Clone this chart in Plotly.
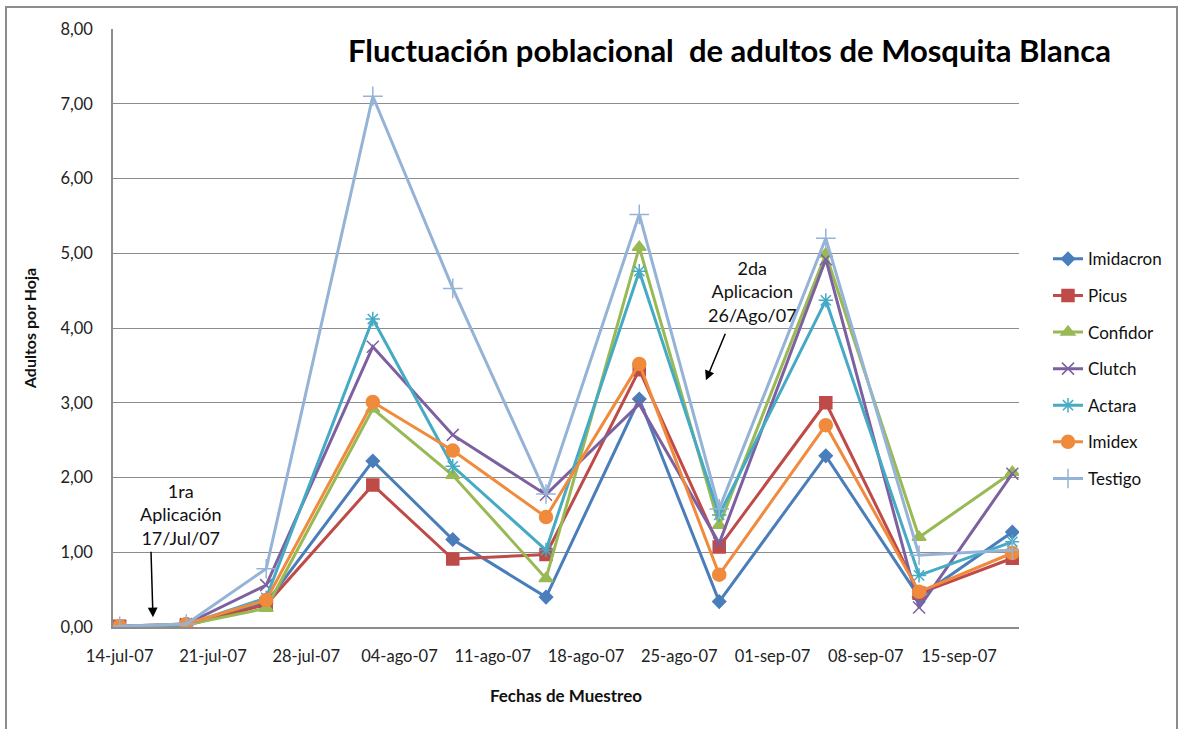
import plotly.graph_objects as go

fechas = ["2007-07-14", "2007-07-19", "2007-07-25", "2007-08-02", "2007-08-08",
          "2007-08-15", "2007-08-22", "2007-08-28", "2007-09-05", "2007-09-12", "2007-09-19"]

imidacron = [0.01, 0.03, 0.32, 2.22, 1.17, 0.40, 3.05, 0.34, 2.29, 0.40, 1.27]
picus     = [0.01, 0.02, 0.30, 1.90, 0.91, 0.97, 3.44, 1.07, 3.00, 0.45, 0.92]
confidor  = [0.01, 0.03, 0.25, 2.92, 2.03, 0.65, 5.08, 1.36, 4.99, 1.20, 2.07]
clutch    = [0.01, 0.04, 0.56, 3.75, 2.57, 1.77, 2.98, 1.12, 4.92, 0.26, 2.05]
actara    = [0.01, 0.03, 0.39, 4.12, 2.15, 1.03, 4.76, 1.50, 4.37, 0.69, 1.14]
imidex    = [0.01, 0.04, 0.36, 3.01, 2.36, 1.47, 3.52, 0.70, 2.70, 0.47, 0.99]
testigo   = [0.01, 0.04, 0.78, 7.10, 4.53, 1.78, 5.52, 1.58, 5.20, 0.96, 1.03]

series_names = ["Imidacron", "Picus", "Confidor", "Clutch", "Actara", "Imidex", "Testigo"]
series_values = [imidacron, picus, confidor, clutch, actara, imidex, testigo]
colors = ["#4A7EBB", "#BE4B48", "#98B954", "#7D60A0", "#46AAC5", "#F08A3C", "#95B3D7"]
symbols = ["diamond", "square", "triangle-up", "x-thin-open", "asterisk-open", "circle", "cross-thin-open"]
msizes = [10, 12, 12, 12, 12, 13, 14]

tick_vals = ["2007-07-14", "2007-07-21", "2007-07-28", "2007-08-04", "2007-08-11",
             "2007-08-18", "2007-08-25", "2007-09-01", "2007-09-08", "2007-09-15"]
tick_text = ["14-jul-07", "21-jul-07", "28-jul-07", "04-ago-07", "11-ago-07",
             "18-ago-07", "25-ago-07", "01-sep-07", "08-sep-07", "15-sep-07"]

FONT = "Lato"

fig = go.Figure()
for name, vals, c, s, ms in zip(series_names, series_values, colors, symbols, msizes):
    fig.add_trace(go.Scatter(
        x=fechas, y=vals, name=name, mode="lines+markers",
        line=dict(color=c, width=3),
        marker=dict(symbol=s, size=ms, color=c, line=dict(color=c, width=1.5)),
        legendgroup=name,
    ))

fig.update_layout(
    width=1186, height=729,
    paper_bgcolor="white", plot_bgcolor="white",
    margin=dict(l=113, r=167, t=29, b=102),
    separators=",.",
    font=dict(family=FONT, size=16, color="#222222"),
    showlegend=True,
    legend=dict(x=1.032, y=0.645, xanchor="left", yanchor="top",
                font=dict(family=FONT, size=17, color="#111111"),
                traceorder="grouped", tracegroupgap=11.5,
                bgcolor="rgba(0,0,0,0)"),
    xaxis=dict(
        type="date", range=["2007-07-13 12:00", "2007-09-19 12:00"],
        tickvals=tick_vals, ticktext=tick_text,
        showgrid=False, showline=True, linecolor="#8c8c8c", linewidth=1.5,
        ticks="", ticklabelstandoff=13, automargin=False,
        tickfont=dict(family=FONT, size=16.5, color="#222222"),
        title=dict(text="<b>Fechas de Muestreo</b>", standoff=26,
                   font=dict(family=FONT, size=17, color="#111111")),
        zeroline=False,
    ),
    yaxis=dict(
        range=[0, 8], dtick=1, tickformat=".2f",
        showgrid=True, gridcolor="#8c8c8c", gridwidth=1,
        showline=True, linecolor="#8c8c8c", linewidth=1.5,
        ticks="", ticklabelstandoff=15, automargin=False,
        tickfont=dict(family=FONT, size=16.5, color="#222222"),
        title=dict(text="<b>Adultos por Hoja</b>", standoff=20,
                   font=dict(family=FONT, size=16, color="#111111")),
        zeroline=False,
    ),
)

# Title
fig.add_annotation(
    text="<b>Fluctuación poblacional\u00a0 de adultos de Mosquita Blanca</b>",
    xref="paper", yref="paper", x=(729 - 113) / 906, y=(627 - 50) / 598,
    xanchor="center", yanchor="middle",
    showarrow=False, font=dict(family=FONT, size=31, color="#000000"),
)

# Application notes
fig.add_annotation(
    text="1ra<br>Aplicación<br>17/Jul/07", xref="paper", yref="paper",
    x=(181 - 113) / 906, y=(627 - 514) / 598, xanchor="center", yanchor="middle",
    showarrow=False, font=dict(family=FONT, size=18, color="#111111"),
)
fig.add_annotation(
    text="2da<br>Aplicacion<br>26/Ago/07", xref="paper", yref="paper",
    x=(752 - 113) / 906, y=(627 - 291) / 598, xanchor="center", yanchor="middle",
    showarrow=False, font=dict(family=FONT, size=18, color="#111111"),
)
# Arrows
fig.add_annotation(
    x="2007-07-16 12:00", y=0.13, ax=-2, ay=-67, text="", showarrow=True,
    arrowhead=2, arrowsize=1.3, arrowwidth=1.5, arrowcolor="#000000",
)
fig.add_annotation(
    x="2007-08-27 00:00", y=3.30, ax=20, ay=-48, text="", showarrow=True,
    arrowhead=2, arrowsize=1.3, arrowwidth=1.5, arrowcolor="#000000",
)

# Outer chart frame
fig.add_shape(type="path", xref="paper", yref="paper",
              path="M {l},{b} L {l},{t} L {r},{t} L {r},{b}".format(
                  l=(6 - 113) / 906, r=(1177 - 113) / 906,
                  t=(627 - 7) / 598, b=(627 - 740) / 598),
              line=dict(color="#8c8c8c", width=2))

fig.write_html("out.html", config={"displayModeBar": False},
               post_script="document.body.style.margin='0';document.body.style.padding='0';")
